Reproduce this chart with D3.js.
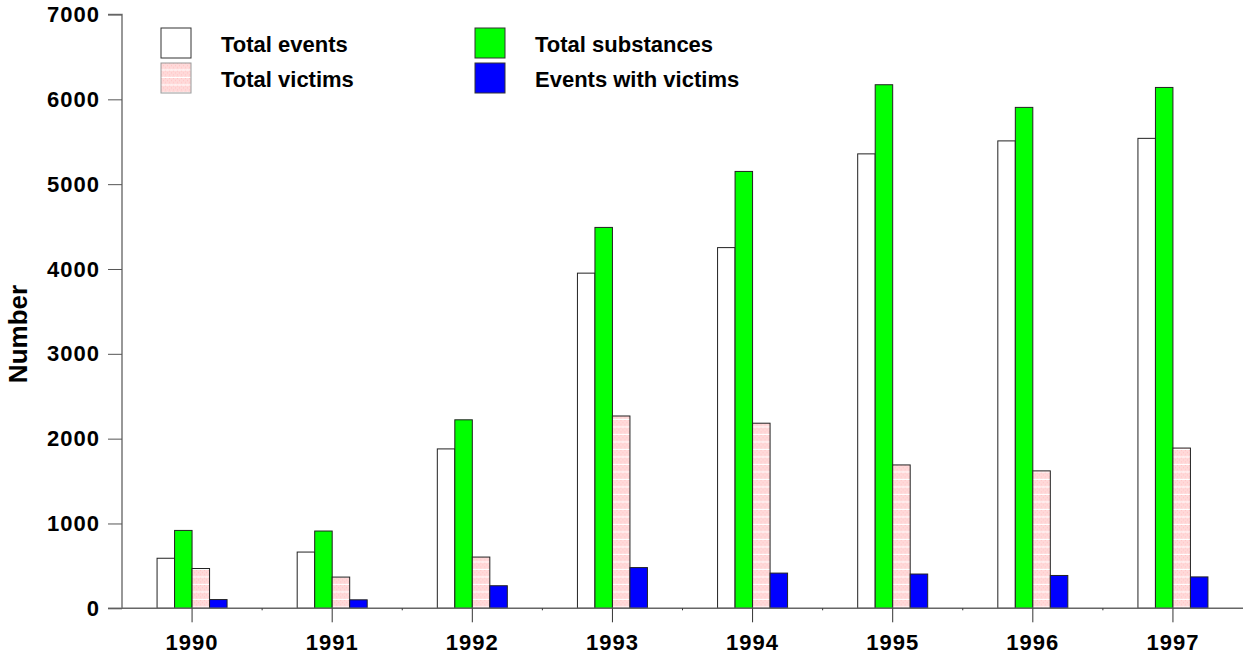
<!DOCTYPE html>
<html><head><meta charset="utf-8">
<script src="https://cdn.jsdelivr.net/npm/d3@7"></script>
<style>
html,body{margin:0;padding:0;background:#fff;}
text{font-family:"Liberation Sans",Arial,sans-serif;font-weight:bold;fill:#000;}
</style></head>
<body>
<svg id="chart" width="1247" height="665"></svg>
<script>
const years = ["1990","1991","1992","1993","1994","1995","1996","1997"];
const seriesNames = ["Total events","Total substances","Total victims","Events with victims"];
const totalEvents =      [590, 663, 1879, 3951, 4252, 5357, 5510, 5540];
const totalSubstances =  [918, 911, 2222, 4490, 5150, 6172, 5905, 6140];
const totalVictims =     [469, 368, 604, 2267, 2182, 1690, 1620, 1889];
const eventsWithVictims =[103, 100, 266, 480, 415, 404, 387, 370];
const yTicks = [0,1000,2000,3000,4000,5000,6000,7000];

const seriesData = [totalEvents, totalSubstances, totalVictims, eventsWithVictims];

const svg = d3.select("#chart");
const defs = svg.append("defs");
const pat = defs.append("pattern").attr("id","pinkPat").attr("patternUnits","userSpaceOnUse")
  .attr("width",4).attr("height",7.5);
pat.append("rect").attr("width",4).attr("height",7.5).attr("fill","#ffd9d9");
pat.append("rect").attr("x",0).attr("y",0).attr("width",1).attr("height",1).attr("fill","#ffc4c4");
pat.append("rect").attr("x",2).attr("y",2).attr("width",1).attr("height",1).attr("fill","#ffc4c4");
pat.append("rect").attr("x",0).attr("y",4).attr("width",1).attr("height",1).attr("fill","#ffc4c4");
pat.append("rect").attr("x",2).attr("y",6).attr("width",1).attr("height",1).attr("fill","#ffeaea");
pat.append("rect").attr("x",0).attr("y",6.5).attr("width",4).attr("height",1).attr("fill","#ffffff");

const fills = ["#ffffff","#00ff00","url(#pinkPat)","#0000ff"];

const x0 = 122, x1 = 1243, yBase = 608.3, yTop = 14.5;
const x = d3.scaleBand().domain(years).range([x0, x1]).paddingInner(0).paddingOuter(0);
const y = d3.scaleLinear().domain([0,7000]).range([yBase, yTop]);
const inner = d3.scaleBand().domain(d3.range(4)).range([-35, 35]);

// bars
const groups = svg.append("g").selectAll("g").data(years).join("g")
  .attr("transform", d => `translate(${x(d) + x.bandwidth()/2},0)`);
groups.selectAll("rect").data((d,i) => seriesData.map((s,k) => ({k, v:s[i]}))).join("rect")
  .attr("x", d => inner(d.k))
  .attr("width", inner.bandwidth())
  .attr("y", d => y(d.v))
  .attr("height", d => yBase - y(d.v))
  .attr("fill", d => fills[d.k])
  .attr("stroke", "#222").attr("stroke-width", 1);

// y axis
const yAxis = d3.axisLeft(y).tickValues(yTicks).tickSize(14).tickPadding(8).tickFormat(d3.format("d"));
const ya = svg.append("g").attr("transform", `translate(${x0},0)`).call(yAxis);
ya.select(".domain").attr("stroke","#777").attr("stroke-width",1.5).attr("d", `M-14,${yTop}H0V${yBase}H-14`);
ya.selectAll(".tick line").attr("stroke","#555");
ya.selectAll(".tick text").style("font-size","22px").style("letter-spacing","1px").attr("font-family",null)
  .attr("x",-22);

// x axis
const xAxis = d3.axisBottom(x).tickSize(14).tickPadding(12);
const xa = svg.append("g").attr("transform", `translate(0,${yBase})`).call(xAxis);
xa.select(".domain").attr("stroke","#666").attr("stroke-width",1.5).attr("d", `M${x0},0H${x1}`);
xa.selectAll(".tick line").attr("stroke","#333");
xa.selectAll(".tick text").style("font-size","22px").style("letter-spacing","1px").attr("font-family",null);
// minor marks at band boundaries
xa.append("g").selectAll("line").data(years.slice(1)).join("line")
  .attr("x1", d => x(d)).attr("x2", d => x(d)).attr("y1", 0).attr("y2", 2)
  .attr("stroke","#333");

// y label
svg.append("text").attr("transform","translate(27,334) rotate(-90)")
  .attr("text-anchor","middle").style("font-size","26px").text("Number");

// legend
const legendPos = [[161,28],[475,28],[161,63],[475,63]];
const leg = svg.append("g").selectAll("g").data(seriesNames).join("g")
  .attr("transform",(d,i)=>`translate(${legendPos[i][0]},${legendPos[i][1]})`);
leg.append("rect").attr("width",30).attr("height",30)
  .attr("fill",(d,i)=>fills[i]).attr("stroke",(d,i)=> i===2 ? "#999" : "#333").attr("stroke-width",1);
leg.append("text").attr("x",60).attr("y",16).attr("dy","0.35em").style("font-size","22px").text(d=>d);
</script>
</body></html>
